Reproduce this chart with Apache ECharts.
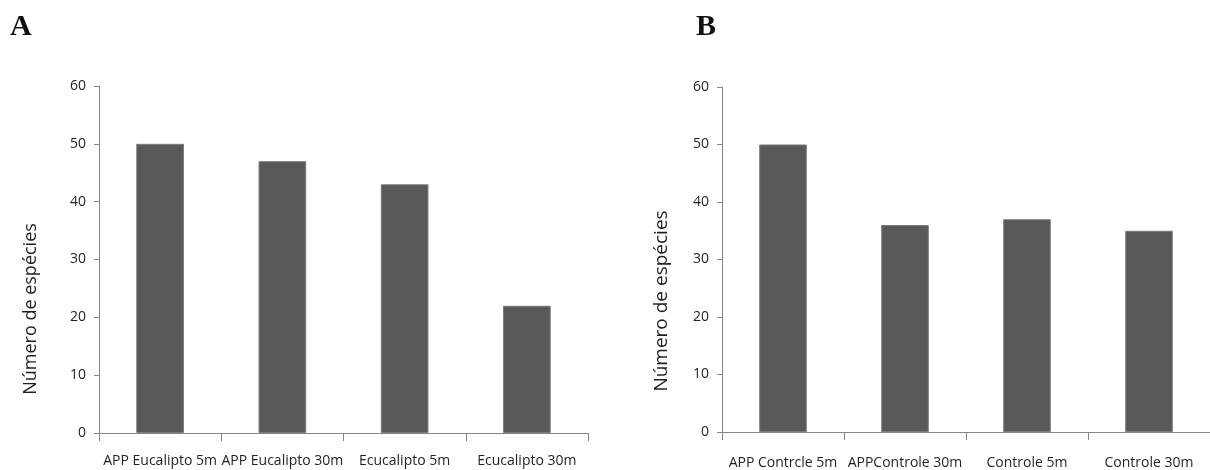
<!DOCTYPE html>
<html>
<head>
<meta charset="utf-8">
<script src="https://cdn.jsdelivr.net/npm/echarts@6/dist/echarts.min.js"></script>
<style>
  html, body { margin: 0; padding: 0; background: #fff; }
  #chart { width: 1210px; height: 470px; }
</style>
</head>
<body>
<div id="chart"></div>
<script>
// Panel A: APP and eucalyptus plots
const categoriesA = ['APP Eucalipto 5m', 'APP Eucalipto 30m', 'Ecucalipto 5m', 'Ecucalipto 30m'];
const valuesA = [50, 47, 43, 22];

// Panel B: APP and control plots
const categoriesB = ['APP Contrcle 5m', 'APPControle 30m', 'Controle 5m', 'Controle 30m'];
const valuesB = [50, 36, 37, 35];

const yTicks = [0, 10, 20, 30, 40, 50, 60];
const yTitle = 'Número de espécies';

const BAR = '#595959';
const AXIS = '#868686';
const TXT = '#1f1f24';
const FONT = 'Open Sans';

const chart = echarts.init(document.getElementById('chart'), null, { renderer: 'canvas' });

function xAxisFor(idx, cats, margin) {
  return {
    type: 'category', gridIndex: idx, data: cats,
    axisLine: { lineStyle: { color: AXIS, width: 1 } },
    axisTick: { show: true, length: 8, lineStyle: { color: AXIS } },
    axisLabel: { interval: 0, margin: margin, color: TXT, fontFamily: FONT, fontSize: 14 }
  };
}
function yAxisFor(idx) {
  return {
    type: 'value', gridIndex: idx,
    min: yTicks[0], max: yTicks[yTicks.length - 1], interval: 10,
    splitLine: { show: false },
    axisLine: { show: true, lineStyle: { color: AXIS, width: 1 } },
    axisTick: { show: true, length: 5, lineStyle: { color: AXIS } },
    axisLabel: { margin: 13, color: TXT, fontFamily: FONT, fontSize: 14 }
  };
}
function barSeries(idx, vals) {
  return {
    type: 'bar', xAxisIndex: idx, yAxisIndex: idx, data: vals,
    barWidth: '39%',
    itemStyle: { color: BAR, borderColor: '#7a7a7a', borderWidth: 1 },
    silent: true
  };
}

chart.setOption({
  animation: false,
  backgroundColor: '#fff',
  grid: [
    { left: 99, top: 86, width: 489, height: 347 },
    { left: 722, top: 87, width: 498, height: 346 }
  ],
  xAxis: [xAxisFor(0, categoriesA, 21), xAxisFor(1, categoriesB, 24)],
  yAxis: [yAxisFor(0), yAxisFor(1)],
  series: [barSeries(0, valuesA), barSeries(1, valuesB)],
  graphic: [
    { type: 'text', left: 10, top: 12,
      style: { text: 'A', font: 'bold 30px "Liberation Serif"', fill: '#111' } },
    { type: 'text', left: 696, top: 12,
      style: { text: 'B', font: 'bold 30px "Liberation Serif"', fill: '#111' } },
    { type: 'text', x: 31, y: 309, rotation: Math.PI / 2,
      style: { text: yTitle, font: '18px "Open Sans"', fill: TXT, align: 'center', verticalAlign: 'middle' } },
    { type: 'text', x: 662, y: 301, rotation: Math.PI / 2,
      style: { text: yTitle, font: '19px "Open Sans"', fill: TXT, align: 'center', verticalAlign: 'middle' } }
  ]
});
</script>
</body>
</html>
